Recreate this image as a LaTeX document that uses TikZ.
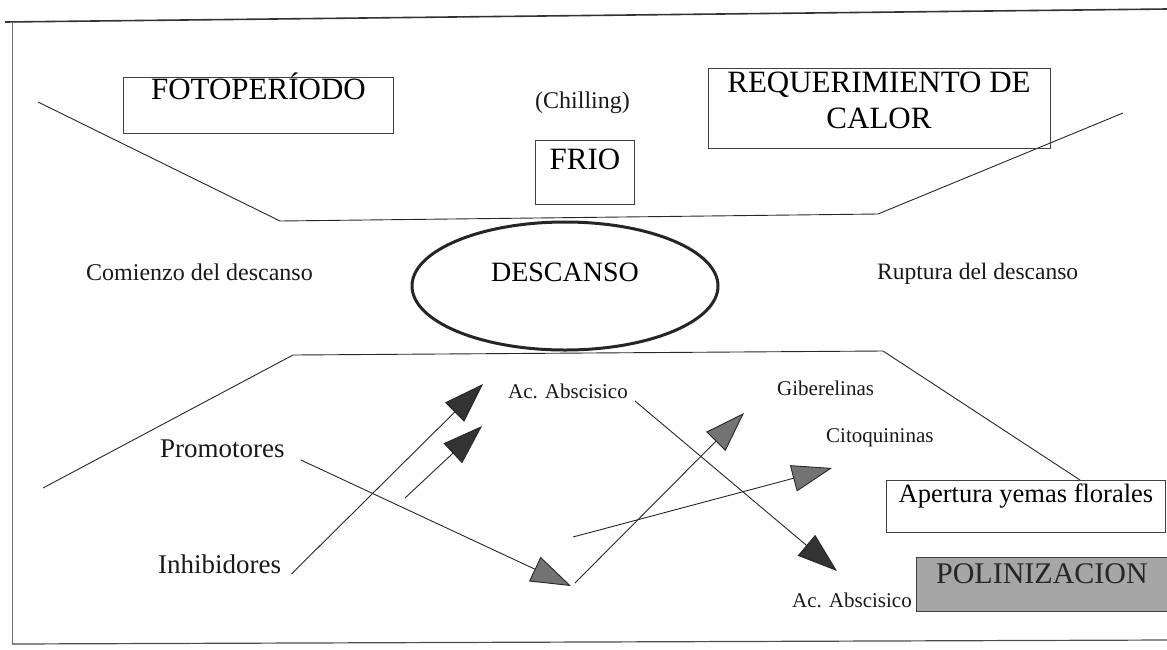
\documentclass[tikz,border=0pt]{standalone}
\usepackage{fontspec}
\setmainfont{Liberation Serif}
\usetikzlibrary{arrows.meta,shapes.geometric}
\newcommand{\fsz}[1]{\fontsize{#1pt}{1.2em}\selectfont}
\begin{document}
\begin{tikzpicture}[x=1pt,y=-1pt,
  box/.style={draw=black!75,line width=0.9pt,inner sep=0pt,anchor=north west},
  lbl/.style={inner sep=0pt,anchor=base west,text=black!90},
  ln/.style={line width=0.9pt,draw=black!85},
  solidarr/.style={ln,-{Triangle[length=40pt,width=27pt,fill=black!80]}},
  hatcharr/.style={ln,-{Triangle[length=40pt,width=27pt,fill=black!55]}},
]
\useasboundingbox (0,0) rectangle (1167,649);
% frame
\draw[line width=1.6pt,black!80] (5,22) -- (1167,9);
\draw[line width=0.7pt,black!55] (12,22) -- (12,644);
\draw[line width=1.2pt,black!70] (12,644) -- (1167,640);
% trapezoid lines
\draw[ln] (38,102) -- (280,221) -- (878,214) -- (1123,113);
\draw[ln] (43,488) -- (293,355) -- (883,351) -- (1080,480);
% boxes
\node[box,minimum width=270pt,text height=22pt,text depth=34pt,font=\fsz{31}] (foto) at (123,77) {FOTOPERÍODO};
\node[box,minimum width=99pt,text height=29pt,text depth=35pt,font=\fsz{31}] (frio) at (535,140) {FRIO};
\node[box,minimum width=342pt,minimum height=80pt] (req) at (708,68) {};
\node[inner sep=0pt,anchor=north,align=center,font=\fontsize{31pt}{36pt}\selectfont] (reqt) at (879,72) {REQUERIMIENTO DE\\CALOR};
\node[box,minimum width=279pt,text height=22pt,text depth=30pt,font=\fsz{26.5}] (apert) at (886,480) {Apertura yemas florales};
\node[box,fill=black!35,minimum width=251pt,text height=26pt,text depth=28pt,font=\fsz{30},text=black!85] (polin) at (916,557) {POLINIZACION};
% ellipse
\node[draw=black!85,ellipse,line width=3pt,minimum width=306pt,minimum height=128pt,text height=18.5pt,text depth=28.5pt,font=\fsz{28}] (desc) at (565,286) {DESCANSO};
% labels
\node[lbl,font=\fsz{24}] (chill) at (535,108) {(Chilling)};
\node[lbl,font=\fsz{24}] (com) at (86,280) {Comienzo del descanso};
\node[lbl,font=\fsz{23.5}] (rup) at (877,279) {Ruptura del descanso};
\node[lbl,font=\fsz{21}] (aab1) at (508,398) {Ac. Abscisico};
\node[lbl,font=\fsz{21}] (gib) at (777,395) {Giberelinas};
\node[lbl,font=\fsz{21}] (cit) at (826,442) {Citoquininas};
\node[lbl,font=\fsz{27}] (prom) at (160,457) {Promotores};
\node[lbl,font=\fsz{27}] (inh) at (158,573) {Inhibidores};
\node[lbl,font=\fsz{21}] (aab2) at (792,607) {Ac. Abscisico};
% arrow coordinates
\coordinate (t1) at (483,384);
\coordinate (s2) at (405,498);
\coordinate (t2) at (482,426);
\coordinate (t3) at (571,586);
\coordinate (s4) at (575,583);
\coordinate (t4) at (744,413);
\coordinate (s5) at (573,537);
\coordinate (t5) at (832,468);
\coordinate (t6) at (837,571);
% arrows
\draw[solidarr] ([shift={(10,1)}]inh.base east) -- (t1);
\draw[solidarr] (s2) -- (t2);
\draw[hatcharr] ([shift={(16,3)}]prom.base east) -- (t3);
\draw[hatcharr] (s4) -- (t4);
\draw[hatcharr] (s5) -- (t5);
\draw[solidarr] ([shift={(7,3)}]aab1.base east) -- (t6);
\end{tikzpicture}
\end{document}
